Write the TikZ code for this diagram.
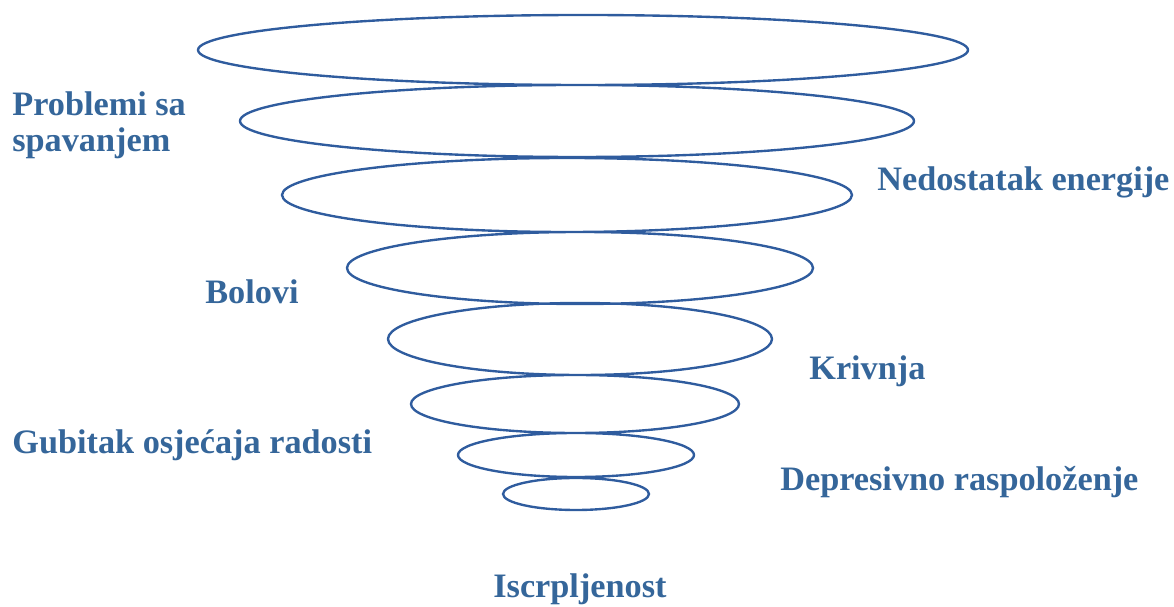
\documentclass[tikz,border=0pt]{standalone}
\usepackage{fontspec}
\setmainfont{Liberation Serif}
\usepackage{tikz}
\usepackage{xcolor}
\definecolor{ringblue}{HTML}{2F5C9E}
\definecolor{wordblue}{HTML}{35669A}

\begin{document}
\begin{tikzpicture}[x=0.02cm, y=-0.02cm]
	\tikzstyle{ring} = [draw=ringblue, line width=1.35pt]
	\tikzstyle{word} = [text=wordblue, font=\fontsize{19.5}{21}\selectfont\bfseries, inner sep=0pt, anchor=base west, align=left]
	\useasboundingbox (0,0) rectangle (1174,607);
	\path [ring]
			(583,50) ellipse (385 and 35)
			(577,121) ellipse (337 and 36)
			(567,195) ellipse (285 and 37)
			(580,268) ellipse (233 and 36)
			(580,339) ellipse (192 and 36)
			(575,404) ellipse (164 and 29)
			(576,455) ellipse (118 and 22)
			(576,494) ellipse (73 and 16);
		\node[word] (sleep) at (12,152) {Problemi sa\\spavanjem};
		\node[word] (energy) at (877,191) {Nedostatak energije};
		\node[word] (pain) at (205,304) {Bolovi};
		\node[word] (guilt) at (809,380) {Krivnja};
		\node[word] (joy) at (12,454) {Gubitak osjećaja radosti};
		\node[word] (mood) at (780,491) {Depresivno raspoloženje};
		\node[word] (tired) at (493,598) {Iscrpljenost};
	\end{tikzpicture}
\end{document}
